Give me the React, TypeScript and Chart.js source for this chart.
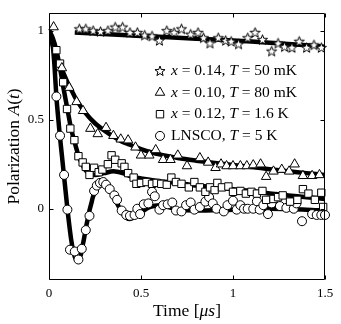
import React, { useEffect, useRef } from 'react';
import { Chart, registerables } from 'chart.js';

Chart.register(...registerables);

const FONT = "'Liberation Serif', 'DejaVu Serif', serif";

// Axis ticks
const xTickValues = [0, 0.5, 1, 1.5];
const yTickValues = [0, 0.5, 1];

// x = 0.14, T = 50 mK (stars)
const starTimes = [0.165, 0.2, 0.24, 0.28, 0.32, 0.36, 0.4, 0.44, 0.48, 0.52, 0.56, 0.6, 0.64, 0.68, 0.72, 0.77, 0.81, 0.84, 0.875, 0.92, 0.96, 0.99, 1.03, 1.08, 1.12, 1.16, 1.21, 1.245, 1.28, 1.32, 1.36, 1.4, 1.44, 1.48];
const starValues = [1.01, 1.01, 1.0, 0.995, 1.0, 1.02, 1.02, 0.99, 0.99, 0.975, 0.97, 0.945, 1.0, 0.99, 1.01, 0.98, 0.99, 0.96, 0.93, 0.96, 0.945, 0.94, 0.925, 0.96, 0.99, 0.95, 0.885, 0.93, 0.91, 0.905, 0.94, 0.905, 0.92, 0.905];
const starFitTimes = [0.14, 0.4, 0.6, 0.8, 1.0, 1.2, 1.4, 1.5];
const starFitValues = [0.99, 0.975, 0.965, 0.955, 0.945, 0.932, 0.918, 0.91];

// x = 0.10, T = 80 mK (triangles)
const triTimes = [0.025, 0.07, 0.11, 0.15, 0.185, 0.225, 0.265, 0.31, 0.35, 0.39, 0.43, 0.47, 0.5, 0.545, 0.58, 0.62, 0.66, 0.7, 0.75, 0.82, 0.865, 0.905, 0.935, 0.965, 1.0, 1.04, 1.075, 1.11, 1.15, 1.18, 1.22, 1.265, 1.305, 1.335, 1.38, 1.43, 1.47];
const triValues = [1.02, 0.79, 0.68, 0.6, 0.55, 0.45, 0.42, 0.455, 0.41, 0.39, 0.385, 0.345, 0.3, 0.3, 0.33, 0.275, 0.275, 0.3, 0.24, 0.285, 0.26, 0.23, 0.25, 0.24, 0.24, 0.24, 0.24, 0.245, 0.25, 0.18, 0.21, 0.22, 0.21, 0.25, 0.185, 0.185, 0.19];
const triFitTimes = [0, 0.025, 0.05, 0.075, 0.1, 0.125, 0.15, 0.2, 0.25, 0.3, 0.35, 0.4, 0.45, 0.5, 0.6, 0.7, 0.8, 0.9, 1.0, 1.1, 1.2, 1.3, 1.4, 1.5];
const triFitValues = [1.0, 0.9, 0.83, 0.77, 0.71, 0.66, 0.61, 0.535, 0.48, 0.44, 0.405, 0.375, 0.355, 0.335, 0.305, 0.285, 0.27, 0.257, 0.245, 0.234, 0.222, 0.211, 0.2, 0.19];

// x = 0.12, T = 1.6 K (squares)
const sqTimes = [0.04, 0.06, 0.077, 0.098, 0.116, 0.138, 0.16, 0.183, 0.2, 0.22, 0.245, 0.27, 0.29, 0.32, 0.34, 0.36, 0.395, 0.41, 0.43, 0.46, 0.475, 0.5, 0.53, 0.56, 0.585, 0.61, 0.64, 0.665, 0.69, 0.72, 0.76, 0.79, 0.82, 0.85, 0.875, 0.9, 0.915, 0.94, 0.975, 1.0, 1.04, 1.07, 1.1, 1.13, 1.16, 1.18, 1.22, 1.245, 1.27, 1.31, 1.35, 1.38, 1.41, 1.445, 1.48, 1.49];
const sqValues = [0.89, 0.815, 0.71, 0.56, 0.45, 0.385, 0.295, 0.26, 0.235, 0.19, 0.23, 0.205, 0.22, 0.25, 0.3, 0.275, 0.255, 0.235, 0.2, 0.175, 0.14, 0.145, 0.15, 0.14, 0.145, 0.14, 0.135, 0.175, 0.15, 0.14, 0.12, 0.15, 0.12, 0.095, 0.12, 0.105, 0.145, 0.12, 0.125, 0.095, 0.1, 0.085, 0.095, 0.085, 0.1, 0.05, 0.055, 0.065, 0.075, 0.04, 0.05, 0.11, 0.085, 0.05, 0.09, 0.01];
const sqFitTimes = [0, 0.02, 0.04, 0.06, 0.08, 0.1, 0.12, 0.14, 0.16, 0.18, 0.2, 0.22, 0.25, 0.3, 0.35, 0.4, 0.45, 0.5, 0.6, 0.7, 0.8, 0.9, 1.0, 1.1, 1.2, 1.3, 1.4, 1.5];
const sqFitValues = [1.0, 0.96, 0.89, 0.79, 0.67, 0.56, 0.45, 0.37, 0.3, 0.25, 0.215, 0.2, 0.19, 0.2, 0.21, 0.2, 0.18, 0.17, 0.155, 0.145, 0.13, 0.12, 0.11, 0.1, 0.085, 0.075, 0.065, 0.055];

// LNSCO, T = 5 K (circles)
const circTimes = [0.04, 0.06, 0.082, 0.1, 0.114, 0.14, 0.16, 0.178, 0.2, 0.22, 0.245, 0.26, 0.277, 0.295, 0.31, 0.33, 0.355, 0.37, 0.395, 0.42, 0.44, 0.465, 0.48, 0.495, 0.515, 0.54, 0.56, 0.575, 0.6, 0.62, 0.645, 0.67, 0.69, 0.72, 0.745, 0.77, 0.79, 0.82, 0.85, 0.87, 0.89, 0.91, 0.95, 0.97, 1.0, 1.02, 1.04, 1.06, 1.08, 1.11, 1.13, 1.145, 1.165, 1.19, 1.21, 1.255, 1.29, 1.33, 1.345, 1.375, 1.43, 1.455, 1.48, 1.5];
const circValues = [0.63, 0.41, 0.19, -0.005, -0.23, -0.24, -0.285, -0.225, -0.12, -0.04, 0.1, 0.13, 0.145, 0.15, 0.135, 0.11, 0.075, 0.05, -0.01, -0.035, -0.04, -0.035, 0.0, -0.03, 0.025, 0.03, 0.095, 0.07, -0.005, 0.02, 0.025, 0.035, -0.01, -0.015, 0.02, 0.035, -0.005, 0.01, 0.04, 0.065, 0.03, 0.0, -0.015, 0.02, 0.045, -0.005, 0.02, 0.0, 0.0, 0.0, 0.042, -0.005, 0.02, -0.03, 0.03, 0.015, 0.005, 0.0, 0.03, -0.07, -0.03, -0.035, -0.035, -0.035];
const circFitTimes = [0, 0.01, 0.02, 0.03, 0.04, 0.05, 0.06, 0.07, 0.08, 0.09, 0.1, 0.11, 0.12, 0.13, 0.14, 0.15, 0.16, 0.17, 0.18, 0.19, 0.2, 0.21, 0.22, 0.23, 0.24, 0.26, 0.28, 0.3, 0.32, 0.34, 0.36, 0.38, 0.4, 0.42, 0.44, 0.46, 0.48, 0.5, 0.55, 0.6, 0.65, 0.7, 0.8, 1.0, 1.2, 1.4, 1.5];
const circFitValues = [1.0, 0.98, 0.92, 0.8, 0.63, 0.51, 0.4, 0.3, 0.2, 0.1, 0.0, -0.09, -0.17, -0.23, -0.27, -0.29, -0.29, -0.27, -0.22, -0.17, -0.11, -0.06, -0.01, 0.03, 0.07, 0.115, 0.14, 0.145, 0.125, 0.09, 0.05, 0.01, -0.025, -0.05, -0.058, -0.05, -0.035, -0.02, 0.01, 0.02, 0.01, -0.005, -0.01, -0.005, 0.0, -0.005, -0.01];

const legendRows = [
  { marker: 'star', parts: [['x', true], [' = 0.14, ', false], ['T', true], [' = 50 mK', false]] },
  { marker: 'triangle', parts: [['x', true], [' = 0.10, ', false], ['T', true], [' = 80 mK', false]] },
  { marker: 'rect', parts: [['x', true], [' = 0.12, ', false], ['T', true], [' = 1.6 K', false]] },
  { marker: 'circle', parts: [['LNSCO, ', false], ['T', true], [' = 5 K', false]] },
];

const xTitleParts: [string, boolean][] = [['Time [', false], ['\u03bcs', true], [']', false]];
const yTitleParts: [string, boolean][] = [['Polarization ', false], ['A', true], ['(', false], ['t', true], [')', false]];

const pts = (xs: number[], ys: number[]) => xs.map((x, i) => ({ x, y: ys[i] }));

function starPath(ctx: CanvasRenderingContext2D, cx: number, cy: number, ro: number, ri: number) {
  ctx.beginPath();
  for (let i = 0; i < 10; i++) {
    const r = i % 2 === 0 ? ro : ri;
    const a = -Math.PI / 2 + (i * Math.PI) / 5;
    const px = cx + r * Math.cos(a);
    const py = cy + r * Math.sin(a);
    if (i === 0) ctx.moveTo(px, py); else ctx.lineTo(px, py);
  }
  ctx.closePath();
}

function makeStarImage() {
  const c = document.createElement('canvas');
  c.width = 13; c.height = 13;
  const ctx = c.getContext('2d')!;
  starPath(ctx, 6.5, 7, 5.3, 2.2);
  ctx.fillStyle = '#fff';
  ctx.fill();
  ctx.strokeStyle = '#000';
  ctx.lineWidth = 1;
  ctx.stroke();
  return c;
}

function drawMarker(ctx: CanvasRenderingContext2D, kind: string, x: number, y: number) {
  ctx.save();
  ctx.fillStyle = '#fff';
  ctx.strokeStyle = '#000';
  ctx.lineWidth = 1;
  if (kind === 'star') {
    starPath(ctx, x, y + 0.5, 5.3, 2.2);
  } else if (kind === 'triangle') {
    const r = 5.5;
    ctx.beginPath();
    ctx.moveTo(x, y - r);
    ctx.lineTo(x + r * Math.cos(Math.PI / 6), y + r / 2);
    ctx.lineTo(x - r * Math.cos(Math.PI / 6), y + r / 2);
    ctx.closePath();
  } else if (kind === 'rect') {
    ctx.beginPath();
    ctx.rect(x - 3.7, y - 3.7, 7.4, 7.4);
  } else {
    ctx.beginPath();
    ctx.arc(x, y, 4.5, 0, Math.PI * 2);
  }
  ctx.fill();
  ctx.stroke();
  ctx.restore();
}

function drawRich(ctx: CanvasRenderingContext2D, parts: any[], x: number, y: number, size: number, align: 'left' | 'center') {
  let total = 0;
  const widths = parts.map(([t, it]) => {
    ctx.font = `${it ? 'italic ' : ''}${size}px ${FONT}`;
    const w = ctx.measureText(t).width;
    total += w;
    return w;
  });
  let cx = align === 'center' ? x - total / 2 : x;
  ctx.textBaseline = 'middle';
  ctx.textAlign = 'left';
  ctx.fillStyle = '#000';
  parts.forEach(([t, it], i) => {
    ctx.font = `${it ? 'italic ' : ''}${size}px ${FONT}`;
    ctx.fillText(t, cx, y);
    cx += widths[i];
  });
}

const decorPlugin = {
  id: 'decor',
  afterDraw(chart: any) {
    const { ctx, chartArea } = chart;
    const { left, right, top, bottom } = chartArea;
    const xs = chart.scales.x;
    const ys = chart.scales.y;
    ctx.save();
    ctx.strokeStyle = '#000';
    ctx.lineWidth = 1;
    const L = Math.round(left) + 0.5;
    const R = Math.round(right) - 0.5;
    const T = Math.round(top) + 0.5;
    const B = Math.round(bottom) - 0.5;
    ctx.beginPath();
    ctx.rect(L, T, R - L, B - T);
    ctx.stroke();
    ctx.beginPath();
    xTickValues.forEach((v) => {
      const px = Math.round(xs.getPixelForValue(v)) + 0.5;
      ctx.moveTo(px, B); ctx.lineTo(px, B - 4);
      ctx.moveTo(px, T); ctx.lineTo(px, T + 4);
    });
    yTickValues.forEach((v) => {
      const py = Math.round(ys.getPixelForValue(v)) + 0.5;
      ctx.moveTo(L, py); ctx.lineTo(L + 4, py);
      ctx.moveTo(R, py); ctx.lineTo(R - 4, py);
    });
    ctx.stroke();

    // axis titles
    drawRich(ctx, xTitleParts, (left + right) / 2, 311, 17.5, 'center');
    ctx.save();
    ctx.translate(14, (top + bottom) / 2);
    ctx.rotate(-Math.PI / 2);
    drawRich(ctx, yTitleParts, 0, 0, 17.5, 'center');
    ctx.restore();

    // legend
    legendRows.forEach((row, i) => {
      const yy = top + 58 + i * 21.7;
      drawMarker(ctx, row.marker, left + 111, yy);
      drawRich(ctx, row.parts, left + 122, yy, 15.5, 'left');
    });
    ctx.restore();
  },
};

export default function App() {
  const ref = useRef<HTMLCanvasElement>(null);
  useEffect(() => {
    const starImg = makeStarImage();
    const markerBase = {
      type: 'scatter' as const,
      showLine: false,
      pointBackgroundColor: '#fff',
      pointBorderColor: '#000',
      pointBorderWidth: 1,
      order: 0,
      clip: false as any,
    };
    const lineBase = {
      type: 'line' as const,
      borderColor: '#000',
      borderWidth: 4.5,
      pointRadius: 0,
      tension: 0.3,
      fill: false,
      order: 1,
    };
    const tickLabel = (v: any) => String(Number(v));
    const chart = new Chart(ref.current!, {
      type: 'scatter',
      data: {
        datasets: [
          { ...markerBase, label: 'x = 0.14, T = 50 mK', data: pts(starTimes, starValues), pointStyle: starImg as any, pointRadius: 5 },
          { ...markerBase, label: 'x = 0.10, T = 80 mK', data: pts(triTimes, triValues), pointStyle: 'triangle', pointRadius: 5.5 },
          { ...markerBase, label: 'x = 0.12, T = 1.6 K', data: pts(sqTimes, sqValues), pointStyle: 'rect', pointRadius: 5.2 },
          { ...markerBase, label: 'LNSCO, T = 5 K', data: pts(circTimes, circValues), pointStyle: 'circle', pointRadius: 4.5 },
          { ...lineBase, label: 'fit stars', data: pts(starFitTimes, starFitValues) },
          { ...lineBase, label: 'fit triangles', data: pts(triFitTimes, triFitValues) },
          { ...lineBase, label: 'fit squares', data: pts(sqFitTimes, sqFitValues) },
          { ...lineBase, label: 'fit circles', data: pts(circFitTimes, circFitValues) },
        ] as any,
      },
      options: {
        responsive: false,
        animation: false,
        devicePixelRatio: 1,
        layout: { padding: { top: 5, right: 16, left: 0, bottom: 0 } },
        plugins: { legend: { display: false }, tooltip: { enabled: false } },
        scales: {
          x: {
            type: 'linear',
            min: 0,
            max: 1.5,
            grid: { display: false, drawTicks: false, tickLength: 0 },
            border: { display: false },
            ticks: { color: '#000', font: { family: FONT, size: 13 }, padding: 6, maxRotation: 0, autoSkip: false, callback: tickLabel },
            afterBuildTicks: (s: any) => { s.ticks = xTickValues.map((v) => ({ value: v })); },
            afterFit: (s: any) => { s.height = 44; },
          },
          y: {
            type: 'linear',
            min: -0.4,
            max: 1.1,
            grid: { display: false, drawTicks: false, tickLength: 0 },
            border: { display: false },
            ticks: { color: '#000', font: { family: FONT, size: 13 }, padding: 5, autoSkip: false, callback: tickLabel },
            afterBuildTicks: (s: any) => { s.ticks = yTickValues.map((v) => ({ value: v })); },
            afterFit: (s: any) => { s.width = 49; },
          },
        },
      } as any,
      plugins: [decorPlugin],
    });
    return () => chart.destroy();
  }, []);
  return (
    <div style={{ position: 'fixed', left: 0, top: 0, width: 341, height: 324, background: '#fff' }}>
      <canvas ref={ref} width={341} height={324} />
    </div>
  );
}
